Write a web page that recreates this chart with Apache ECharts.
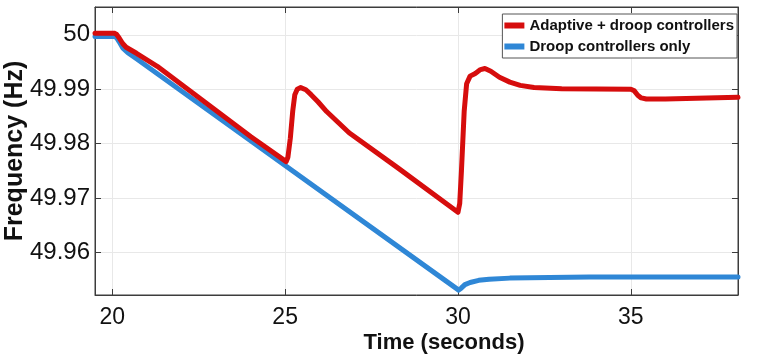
<!DOCTYPE html>
<html>
<head>
<meta charset="utf-8">
<script src="https://cdn.jsdelivr.net/npm/echarts@6/dist/echarts.min.js"></script>
<style>
  html, body { margin: 0; padding: 0; background: #fff; }
  #main { width: 758px; height: 362px; }
</style>
</head>
<body>
<div id="main"></div>
<script>
// values
var seriesNames = ['Adaptive + droop controllers', 'Droop controllers only'];

var adaptiveTime = [19.5, 20.05, 20.12, 20.2, 20.3, 20.4, 20.7, 21.3, 24.0, 25.03, 25.08, 25.15, 25.22,
    25.28, 25.35, 25.45, 25.6, 25.75, 25.95, 26.2, 26.85, 28.25, 30.0, 30.05, 30.1, 30.18, 30.25, 30.35,
    30.5, 30.65, 30.78, 30.95, 31.2, 31.5, 31.8, 32.2, 33.0, 35.0, 35.1, 35.2, 35.3, 35.45, 36.0, 38.1];
var adaptiveFreq = [50.0003, 50.0003, 50.0001, 49.9994, 49.9984, 49.9977, 49.9966, 49.9942, 49.9813,
    49.9767, 49.9775, 49.9810, 49.9860, 49.9890, 49.9900, 49.9903, 49.9899, 49.9890, 49.9877, 49.9859,
    49.9820, 49.9756, 49.9674, 49.9690, 49.9750, 49.9860, 49.9910, 49.9924, 49.9929, 49.9936, 49.9938,
    49.9933, 49.9922, 49.9913, 49.9907, 49.9903, 49.9901, 49.9900, 49.9897, 49.9889, 49.9884, 49.9882,
    49.9882, 49.9885];

var droopTime = [19.5, 20.05, 20.12, 20.2, 20.3, 20.45, 20.7, 30.02, 30.1, 30.2, 30.35, 30.6, 30.9,
    31.5, 33.8, 38.1];
var droopFreq = [49.9997, 49.9997, 49.9995, 49.9987, 49.9976, 49.9967, 49.9956, 49.9531, 49.9535,
    49.9541, 49.9545, 49.9549, 49.9551, 49.9553, 49.9555, 49.9555];

var xTicks = [20, 25, 30, 35];
var yTicks = [49.96, 49.97, 49.98, 49.99, 50];

function pairUp(xs, ys) {
    var out = [];
    for (var i = 0; i < xs.length; i++) out.push([xs[i], ys[i]]);
    return out;
}

var fontFam = 'Liberation Sans, Arial, sans-serif';
var gridColor = '#e8e8e8';
var boxColor = '#3c3c3c';

var myChart = echarts.init(document.getElementById('main'));

var option = {
    animation: false,
    backgroundColor: '#fff',
    grid: {
        left: 95,
        right: 20,
        top: 7,
        bottom: 67,
        outerBoundsMode: 'none',
        containLabel: false,
        show: true,
        borderColor: boxColor,
        borderWidth: 1
    },
    legend: {
        right: 21,
        top: 14,
        orient: 'vertical',
        backgroundColor: '#fff',
        borderColor: '#555',
        borderWidth: 1,
        borderRadius: 0,
        padding: [4, 3, 4, 2],
        itemGap: 6,
        itemWidth: 20,
        itemHeight: 6,
        icon: 'rect',
        textStyle: {
            color: '#111',
            fontFamily: fontFam,
            fontSize: 15,
            fontWeight: 'bold'
        },
        data: seriesNames
    },
    xAxis: [
        {
            type: 'value',
            min: 19.5,
            max: 38.1,
            name: 'Time (seconds)',
            nameLocation: 'middle',
            nameGap: 37,
            nameMoveOverlap: false,
            nameTextStyle: {
                color: '#111',
                fontFamily: fontFam,
                fontSize: 22,
                fontWeight: 'bold',
                padding: [0, 0, 0, 55]
            },
            axisLine: { show: true, lineStyle: { color: boxColor, width: 1 } },
            axisTick: { show: true, inside: true, length: 6, customValues: xTicks, lineStyle: { color: boxColor } },
            axisLabel: {
                customValues: xTicks,
                color: '#111',
                fontFamily: fontFam,
                fontSize: 23,
                margin: 11
            },
            splitLine: { show: true, lineStyle: { color: gridColor, width: 1 } }
        },
        {
            type: 'value',
            position: 'top',
            min: 19.5,
            max: 38.1,
            axisLine: { show: true, lineStyle: { color: boxColor, width: 1 } },
            axisTick: { show: true, inside: true, length: 6, customValues: xTicks, lineStyle: { color: boxColor } },
            axisLabel: { show: false, customValues: xTicks },
            splitLine: { show: false }
        }
    ],
    yAxis: [
        {
            type: 'value',
            min: 49.9522,
            max: 50.0051,
            name: 'Frequency (Hz)',
            nameLocation: 'middle',
            nameGap: 67,
            nameMoveOverlap: false,
            nameTextStyle: {
                color: '#111',
                fontFamily: fontFam,
                fontSize: 25,
                fontWeight: 'bold'
            },
            axisLine: { show: true, lineStyle: { color: boxColor, width: 1 } },
            axisTick: { show: true, inside: true, length: 6, customValues: yTicks, lineStyle: { color: boxColor } },
            axisLabel: {
                customValues: yTicks,
                color: '#111',
                fontFamily: fontFam,
                fontSize: 24,
                margin: 5,
                formatter: function (v) {
                    return String(+v.toFixed(2));
                }
            },
            splitLine: { show: true, lineStyle: { color: gridColor, width: 1 } }
        },
        {
            type: 'value',
            position: 'right',
            min: 49.9522,
            max: 50.0051,
            axisLine: { show: true, lineStyle: { color: boxColor, width: 1 } },
            axisTick: { show: true, inside: true, length: 6, customValues: yTicks, lineStyle: { color: boxColor } },
            axisLabel: { show: false, customValues: yTicks },
            splitLine: { show: false }
        }
    ],
    series: [
        {
            name: seriesNames[1],
            type: 'line',
            showSymbol: false,
            z: 2,
            itemStyle: { color: '#2f87d6' },
            lineStyle: { color: '#2f87d6', width: 5, join: 'round', cap: 'round' },
            data: pairUp(droopTime, droopFreq)
        },
        {
            name: seriesNames[0],
            type: 'line',
            showSymbol: false,
            z: 3,
            itemStyle: { color: '#d60d0d' },
            lineStyle: { color: '#d60d0d', width: 5, join: 'round', cap: 'round' },
            data: pairUp(adaptiveTime, adaptiveFreq)
        }
    ]
};

myChart.setOption(option);
</script>
</body>
</html>
